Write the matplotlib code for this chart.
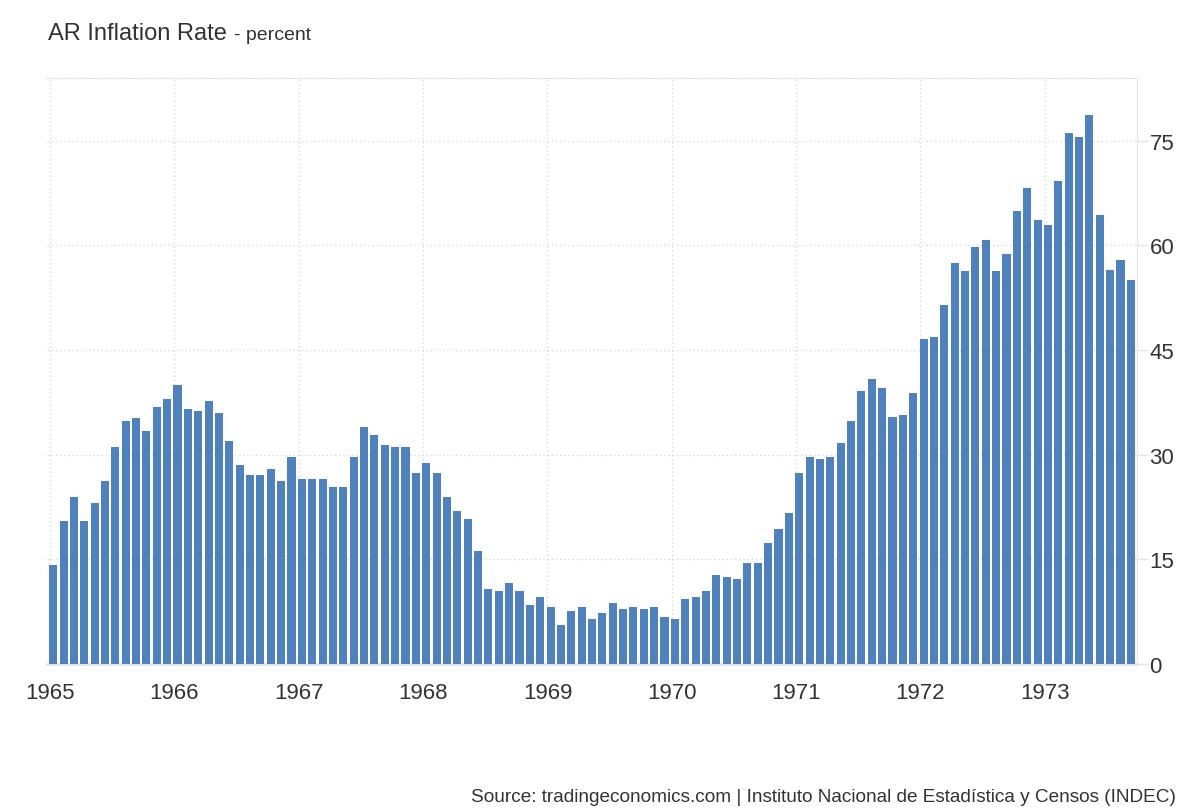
import matplotlib
matplotlib.use("Agg")
from matplotlib import pyplot as plt
import numpy as np

plt.rcParams['font.family'] = ['Liberation Sans', 'DejaVu Sans']

# monthly inflation, Jan 1965 .. Sep 1973 (percent)
infl_1965 = [14.2, 20.5, 24.0, 20.5, 23.1, 26.3, 31.1, 34.9, 35.2, 33.4, 36.9, 38.0]
infl_1966 = [40.0, 36.6, 36.3, 37.7, 36.0, 32.0, 28.6, 27.1, 27.1, 28.0, 26.3, 29.7]
infl_1967 = [26.5, 26.5, 26.5, 25.4, 25.4, 29.7, 34.0, 32.9, 31.4, 31.1, 31.1, 27.4]
infl_1968 = [28.8, 27.4, 24.0, 22.0, 20.8, 16.2, 10.8, 10.5, 11.6, 10.5, 8.5, 9.6]
infl_1969 = [8.2, 5.6, 7.6, 8.2, 6.5, 7.3, 8.7, 7.9, 8.2, 7.9, 8.2, 6.7]
infl_1970 = [6.5, 9.3, 9.6, 10.5, 12.8, 12.5, 12.2, 14.5, 14.5, 17.4, 19.4, 21.7]
infl_1971 = [27.4, 29.7, 29.4, 29.7, 31.7, 34.9, 39.2, 40.9, 39.5, 35.4, 35.7, 38.9]
infl_1972 = [46.6, 46.9, 51.5, 57.5, 56.4, 59.8, 60.8, 56.4, 58.8, 64.9, 68.3, 63.7]
infl_1973 = [62.9, 69.2, 76.1, 75.5, 78.7, 64.3, 56.5, 57.9, 55.0]

years = ['1965', '1966', '1967', '1968', '1969', '1970', '1971', '1972', '1973']
yticks = [0, 15, 30, 45, 60, 75]

values = (infl_1965 + infl_1966 + infl_1967 + infl_1968 + infl_1969
          + infl_1970 + infl_1971 + infl_1972 + infl_1973)
x = np.arange(len(values))

bar_color = '#4f81bd'
grid_color = '#d9d9d9'
text_color = '#333333'

fig = plt.figure(figsize=(11.92, 8.12), dpi=100)
ax = fig.add_axes([0.0394, 0.181, 0.9145, 0.7217])

ax.bar(x, values, width=0.78, color=bar_color, zorder=3)

ax.set_xlim(-0.6, len(values) - 0.4)
ax.set_ylim(0, 84)

ax.set_xticks(np.arange(len(years)) * 12 - 0.3)
ax.set_xticklabels(years)
ax.set_yticks(yticks)
ax.yaxis.tick_right()

ax.tick_params(axis='x', length=0, pad=13, labelsize=16, labelcolor=text_color)
ax.tick_params(axis='y', length=8, width=1, color='#e6e6e6', pad=1,
               labelsize=16, labelcolor=text_color)

ax.grid(True, color=grid_color, linestyle=(0, (1, 2)), linewidth=1, zorder=0)

ax.spines['left'].set_visible(False)
ax.spines['top'].set_color(grid_color)
ax.spines['top'].set_linestyle((0, (1, 2)))
ax.spines['right'].set_color('#e6e6e6')
ax.spines['bottom'].set_color('#e3e3e3')
ax.spines['bottom'].set_linewidth(2)

# title with smaller unit label
t1 = fig.text(0.040, 0.951, 'AR Inflation Rate', fontsize=17, color=text_color,
              va='baseline', ha='left')
fig.canvas.draw()
bb = t1.get_window_extent()
fig.text(bb.x1 / fig.bbox.width + 0.006, 0.951, '- percent', fontsize=14,
         color=text_color, va='baseline', ha='left')

fig.text(0.9866, 0.0123,
         'Source: tradingeconomics.com | Instituto Nacional de Estadística y Censos (INDEC)',
         fontsize=13.7, color=text_color, ha='right', va='baseline')

fig.savefig('out.png', dpi=100)
